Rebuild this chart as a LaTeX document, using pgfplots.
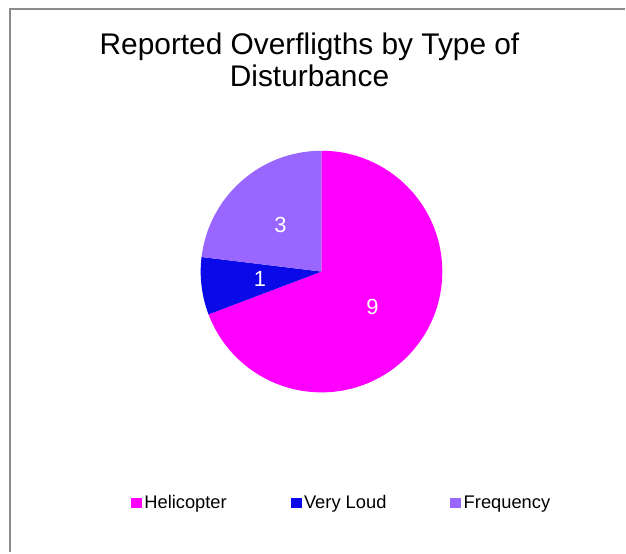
\documentclass[border=0pt]{standalone}
\usepackage{pgfplots}
\usepackage{pgfplotstable}
\usepackage{fontspec}
\setmainfont{Liberation Sans}
\pgfplotsset{compat=1.18}

\definecolor{heli}{HTML}{FF00FF}
\definecolor{loud}{HTML}{0A0AE8}
\definecolor{freq}{HTML}{9966FF}
\definecolor{frame}{HTML}{8C8C8C}

% slices, clockwise from 12 o'clock
\pgfplotstableread{
label value color
Helicopter 9 heli
{Very Loud} 1 loud
Frequency 3 freq
}\piedata

\newcommand\lblfont{\fontsize{22}{26}\selectfont}

\begin{document}
\begin{tikzpicture}
\begin{axis}[
    width=626bp, height=553bp,
    scale only axis,
    xmin=0, xmax=626, ymin=0, ymax=553,
    enlargelimits=false,
    hide axis,
    clip=false,
    legend columns=3,
    legend cell align=left,
    legend style={
        at={(axis cs:131,48)}, anchor=west,
        draw=none, fill=none, inner sep=0pt,
        font=\fontsize{18.4}{22}\selectfont,
        nodes={inner sep=0pt, text height=13.5bp, text depth=4bp},
        /tikz/every odd column/.append style={column sep=3bp},
        /tikz/every even column/.append style={column sep=64bp},
    },
]
\path (axis cs:0,0) rectangle (axis cs:626,553);
\draw[frame, line width=2bp] (axis cs:10,0) -- (axis cs:10,544) -- (axis cs:626,544);

\node[anchor=base, font=\fontsize{30}{32}\selectfont] at (axis cs:310,498) {Reported Overfligths by Type of};
\node[anchor=base, font=\fontsize{30}{32}\selectfont] at (axis cs:310,466) {Disturbance};

% total
\def\total{0}
\pgfplotsforeachungrouped \i in {0,1,2}{%
  \pgfplotstablegetelem{\i}{value}\of\piedata
  \pgfmathsetmacro\total{\total+\pgfplotsretval}%
}
\def\cum{0}
\pgfplotsforeachungrouped \i in {0,1,2}{%
  \pgfplotstablegetelem{\i}{value}\of\piedata \let\v\pgfplotsretval
  \pgfplotstablegetelem{\i}{color}\of\piedata \let\c\pgfplotsretval
  \pgfmathsetmacro\a{90-360*\cum/\total}%
  \pgfmathsetmacro\b{90-360*(\cum+\v)/\total}%
  \pgfmathsetmacro\m{(\a+\b)/2}%
  \pgfmathsetmacro\cum{\cum+\v}%
  \edef\temp{\noexpand\fill[\c] (axis cs:322,281) -- ++(\a:121bp)
      arc[start angle=\a, end angle=\b, radius=121bp] -- cycle;
    \noexpand\path (axis cs:322,281) ++(\m:62bp)
      node[white, font=\noexpand\lblfont] {\v};}%
  \temp
}

\addlegendimage{legend image code/.code={\fill[heli] (0bp,-3.5bp) rectangle (10bp,6.5bp);}}
\addlegendentry{Helicopter}
\addlegendimage{legend image code/.code={\fill[loud] (0bp,-3.5bp) rectangle (10bp,6.5bp);}}
\addlegendentry{Very Loud}
\addlegendimage{legend image code/.code={\fill[freq] (0bp,-3.5bp) rectangle (10bp,6.5bp);}}
\addlegendentry{Frequency}
\end{axis}
\end{tikzpicture}
\end{document}
